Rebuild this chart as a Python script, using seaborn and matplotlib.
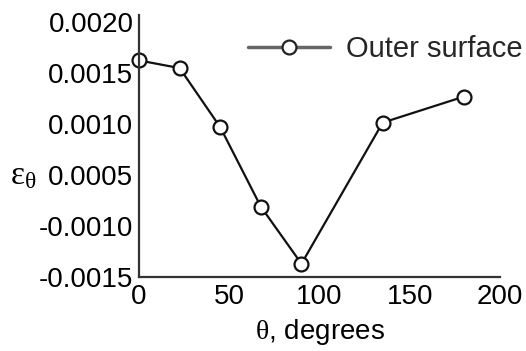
import numpy as np
import pandas as pd
import matplotlib
matplotlib.use('Agg')
import matplotlib.pyplot as plt
import seaborn as sns

# data
theta = [0, 22.5, 45, 67.5, 90, 135, 180]
strain = [0.001625, 0.00155, 0.00097, -0.00043, -0.00137, 0.001015, 0.00127]
series_name = 'Outer surface'

ytick_vals = [-0.0015, -0.0010, 0.0005, 0.0010, 0.0015, 0.0020]
ytick_labels = ['-0.0015', '-0.0010', '0.0005', '0.0010', '0.0015', '0.0020']
xticks = [0, 50, 100, 150, 200]

sns.set_style('white')
plt.rcParams['font.family'] = ['Liberation Sans', 'DejaVu Sans']
plt.rcParams['mathtext.fontset'] = 'custom'
plt.rcParams['mathtext.rm'] = 'Liberation Serif'
plt.rcParams['mathtext.it'] = 'Liberation Serif'

# the y labels of the original are evenly spaced but not linear -> piecewise scale
knots = np.array([ytick_vals[0] - 0.0005] + ytick_vals + [ytick_vals[-1] + 0.0005])
pos = np.arange(len(knots)) - 1.0


def fwd(v):
    return np.interp(v, knots, pos)


def inv(p):
    return np.interp(p, pos, knots)


df = pd.DataFrame({'theta': theta, 'strain': strain, 'series': series_name})

fig = plt.figure(figsize=(5.26, 3.51), dpi=100)
ax = fig.add_axes([0.2643, 0.2108, 0.6863, 0.7462])

sns.lineplot(data=df, x='theta', y='strain', hue='series', palette=['#111111'],
             marker='o', markersize=10, markerfacecolor='white',
             markeredgecolor='#111111', markeredgewidth=1.6, linewidth=1.6,
             ax=ax, clip_on=False)

ax.set_yscale('function', functions=(fwd, inv))
ax.set_yticks(ytick_vals, ytick_labels)
ax.yaxis.set_minor_locator(matplotlib.ticker.NullLocator())
ax.set_ylim(-0.0015, 0.00207)
ax.set_xlim(0, 200)
ax.set_xticks(xticks)

ax.tick_params(axis='both', length=0, labelsize=20, colors='black')
ax.tick_params(axis='x', pad=5)
ax.tick_params(axis='y', pad=4)

for side in ['top', 'right']:
    ax.spines[side].set_visible(False)
for side in ['left', 'bottom']:
    ax.spines[side].set_color('#333333')
    ax.spines[side].set_linewidth(1.6)

ax.set_xlabel(r'$\theta$, degrees', fontsize=20, labelpad=5, color='black')
ylab = ax.set_ylabel(r'$\varepsilon_\theta$', fontsize=24, rotation=0, color='black')
ylab.set_ha('right')
ylab.set_va('center')
ax.yaxis.set_label_coords(-0.285, 0.385)

leg = ax.legend(loc='center left', bbox_to_anchor=(0.302, 0.870), frameon=False,
                fontsize=21, handlelength=2.8, handletextpad=0.55,
                borderpad=0, borderaxespad=0)
for ln in leg.get_lines():
    ln.set_color('#666666')
    ln.set_linewidth(2.5)
    ln.set_markeredgecolor('#222222')

fig.savefig('out.png', dpi=100)
